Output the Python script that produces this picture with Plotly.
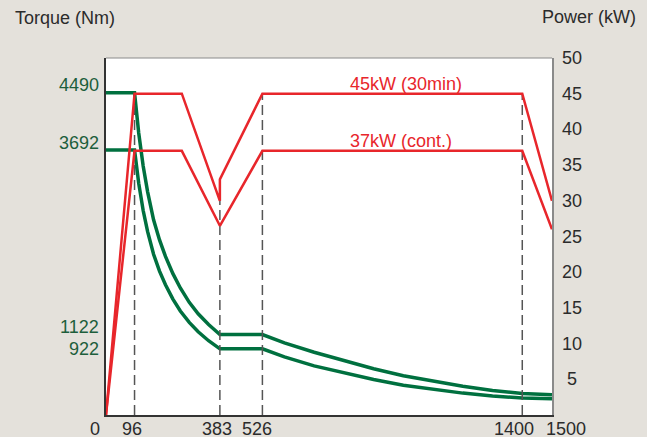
import plotly.graph_objects as go

# speed (rpm) / torque (Nm)
rpm_hi = [0, 96, 110, 125, 140, 160, 180, 200, 225, 250, 280, 310, 345, 383,
          526, 600, 700, 800, 900, 1000, 1100, 1200, 1300, 1400, 1500]
torque_hi = [4490, 4490, 3930, 3470, 3110, 2720, 2440, 2210, 1970, 1770, 1570, 1410, 1260, 1122,
             1122, 1005, 875, 765, 645, 548, 470, 400, 340, 300, 283]
rpm_lo = rpm_hi
torque_lo = [3692, 3692, 3230, 2850, 2555, 2240, 2005, 1815, 1615, 1450, 1290, 1160, 1035, 922,
             922, 810, 685, 590, 495, 415, 355, 305, 265, 237, 227]

# power (kW)
rpm_p45 = [0, 96, 255, 383, 383, 526, 1400, 1500]
power_p45 = [0, 45, 45, 30, 33, 45, 45, 30]
rpm_p37 = [0, 96, 255, 383, 526, 1400, 1500]
power_p37 = [0, 37, 37, 26.5, 37, 37, 26]

# dashed markers (rpm, top in kW)
mark_rpm = [96, 383, 526, 1400]
mark_top = [45, 33, 45, 45]

torque_ticks = [4490, 3692, 1122, 922]
rpm_ticks = [0, 96, 383, 526, 1400, 1500]
power_ticks = [5, 10, 15, 20, 25, 30, 35, 40, 45, 50]

# small nudges of the hand-placed labels (px)
rpm_label_shift = {0: -11, 96: -3, 383: -3, 526: -5, 1400: -8, 1500: 14}
torque_label_shift = {4490: 8, 3692: 7, 1122: 7, 922: 0}

red = '#e8262b'
green = '#00703f'
txt = '#2b2b2b'
bg = '#e4e1db'
font = 'Liberation Sans, Arial, sans-serif'

fig = go.Figure()

for x, top in zip(mark_rpm, mark_top):
    fig.add_trace(go.Scatter(x=[x, x], y=[0, top], yaxis='y2', mode='lines',
                             line=dict(color='#555555', width=1.5, dash='10px,5px'),
                             hoverinfo='skip'))

fig.add_trace(go.Scatter(x=rpm_hi, y=torque_hi, mode='lines',
                         line=dict(color=green, width=3.5)))
fig.add_trace(go.Scatter(x=rpm_lo, y=torque_lo, mode='lines',
                         line=dict(color=green, width=3.5)))
fig.add_trace(go.Scatter(x=rpm_p45, y=power_p45, yaxis='y2', mode='lines',
                         line=dict(color=red, width=2.5)))
fig.add_trace(go.Scatter(x=rpm_p37, y=power_p37, yaxis='y2', mode='lines',
                         line=dict(color=red, width=2.5)))

fig.add_annotation(x=814, y=45, yref='y2', text='45kW (30min)', showarrow=False,
                   xanchor='left', yanchor='bottom', yshift=-2,
                   font=dict(color=red, size=18, family=font))
fig.add_annotation(x=814, y=37, yref='y2', text='37kW (cont.)', showarrow=False,
                   xanchor='left', yanchor='bottom', yshift=-2,
                   font=dict(color=red, size=18, family=font))

# x tick labels
for v in rpm_ticks:
    fig.add_annotation(x=v, y=0, yref='paper', text=str(v), showarrow=False,
                       xanchor='center', yanchor='top', yshift=-2,
                       xshift=rpm_label_shift[v],
                       font=dict(color=txt, size=18, family=font))

# left torque labels
for v in torque_ticks:
    fig.add_annotation(x=0, xref='paper', y=v, text=str(v), showarrow=False,
                       xanchor='right', yanchor='middle', xshift=-5,
                       yshift=torque_label_shift[v],
                       font=dict(color='#1d5e3b', size=18, family=font))

# right power labels (centred like the original)
for v in power_ticks:
    fig.add_annotation(x=1, xref='paper', y=v, yref='y2', text=str(v), showarrow=False,
                       xanchor='center', yanchor='middle', xshift=20,
                       font=dict(color=txt, size=18, family=font))

fig.add_annotation(x=0, y=1, xref='paper', yref='paper', text='Torque (Nm)',
                   showarrow=False, xanchor='left', yanchor='middle',
                   xshift=-93, yshift=40, font=dict(color=txt, size=18, family=font))
fig.add_annotation(x=1, y=1, xref='paper', yref='paper', text='Power (kW)',
                   showarrow=False, xanchor='right', yanchor='middle',
                   xshift=86, yshift=41, font=dict(color=txt, size=18, family=font))

# top border
fig.add_shape(type='line', xref='paper', yref='paper', x0=0, x1=1, y0=1, y1=1,
              line=dict(color='#8a8a8a', width=1))

fig.update_layout(
    width=647, height=437,
    margin=dict(l=106, r=95, t=58, b=22),
    paper_bgcolor=bg, plot_bgcolor='white',
    showlegend=False,
    font=dict(family=font, size=18, color=txt),
    xaxis=dict(range=[0, 1500], showticklabels=False, automargin=False,
               showgrid=False, zeroline=False, showline=True, linecolor='#333333',
               linewidth=1.5, ticks=''),
    yaxis=dict(range=[0, 4975], showticklabels=False, automargin=False,
               showgrid=False, zeroline=False, showline=True, linecolor='#333333',
               linewidth=1.5, ticks=''),
    yaxis2=dict(range=[0, 50], overlaying='y', side='right', showticklabels=False,
                automargin=False,
                showgrid=False, zeroline=False, showline=True, linecolor='#8a8a8a',
                linewidth=2, ticks=''),
)

# drop the page's default body margin so the figure sits at the window's corner
fig.write_html("out.html", config={'displayModeBar': False},
               post_script="document.body.style.margin='0';"
                           "document.body.style.background='%s';" % bg)
